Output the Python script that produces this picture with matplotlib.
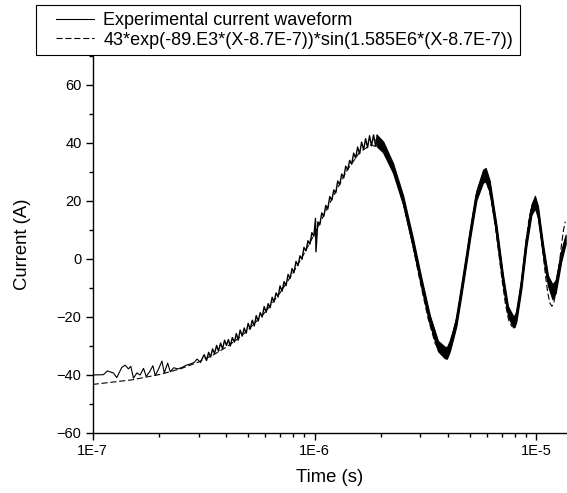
import matplotlib
matplotlib.use("Agg")
import numpy as np
from matplotlib import pyplot as plt
from matplotlib.legend_handler import HandlerLine2D
from matplotlib.ticker import FuncFormatter, LogLocator, MultipleLocator, NullFormatter

plt.rcParams["font.family"] = ["Liberation Sans", "DejaVu Sans"]

# time in microseconds, current in A
early_t_us = [0.100, 0.1117, 0.1165, 0.1240, 0.1284, 0.1352, 0.1400, 0.1449,
              0.1485, 0.1527, 0.1581, 0.1637, 0.1695, 0.1742, 0.1804, 0.1868,
              0.1914, 0.1982, 0.2052, 0.2102, 0.2177, 0.2238, 0.2317, 0.2415,
              0.2527, 0.2643, 0.2756, 0.2873, 0.2954, 0.3059]
early_i = [-40.0, -39.9, -38.6, -39.3, -40.9, -37.4, -36.6, -37.9,
           -37.0, -41.1, -39.3, -40.0, -37.7, -40.5, -38.9, -36.8,
           -40.2, -37.9, -35.2, -39.3, -35.9, -38.9, -37.5, -37.9,
           -37.4, -36.6, -36.2, -35.6, -34.5, -35.6]

mid_t_us = [0.3059, 0.318, 0.326, 0.333, 0.340, 0.347, 0.354, 0.362, 0.369,
            0.377, 0.385, 0.393, 0.401, 0.409, 0.417, 0.426, 0.435, 0.444,
            0.453, 0.462, 0.472, 0.482, 0.492, 0.502, 0.513, 0.524, 0.535,
            0.546, 0.557, 0.569, 0.581, 0.593, 0.605, 0.618, 0.631, 0.644,
            0.657, 0.671, 0.685, 0.699, 0.714, 0.729, 0.744, 0.760, 0.776,
            0.792, 0.808, 0.825, 0.842, 0.860, 0.878, 0.896, 0.915, 0.934,
            0.953, 0.973, 0.993, 1.010, 1.015, 1.035, 1.056, 1.078, 1.101,
            1.124, 1.147, 1.171, 1.196, 1.221, 1.246, 1.272, 1.299, 1.326,
            1.354, 1.382, 1.411, 1.440, 1.470, 1.501, 1.532, 1.564, 1.597,
            1.630, 1.664, 1.699, 1.734, 1.770, 1.807, 1.845, 1.884, 1.920]
mid_i = [-35.6, -33.0, -35.0, -32.2, -33.8, -31.0, -32.6, -29.8, -31.8,
         -29.0, -31.0, -28.0, -29.8, -27.8, -30.0, -27.1, -28.7, -25.7,
         -28.0, -24.5, -26.6, -23.8, -25.6, -22.2, -24.2, -21.1, -23.1,
         -19.5, -21.4, -18.5, -20.0, -16.4, -18.4, -15.4, -16.8, -13.2,
         -14.8, -11.7, -13.1, -9.3, -11.1, -7.8, -9.2, -5.3, -6.7,
         -3.3, -4.7, -0.8, -2.3, 1.1, -0.1, 4.0, 2.8, 6.3,
         5.1, 9.1, 7.8, 14.0, 2.5, 12.8, 11.8, 15.9, 14.7,
         18.5, 17.2, 21.5, 20.3, 23.8, 22.8, 26.9, 25.6, 29.3,
         28.0, 32.0, 30.7, 34.0, 32.7, 36.5, 34.8, 38.6, 36.3,
         40.3, 37.7, 41.5, 38.4, 42.5, 39.0, 42.8, 39.0, 42.0]

# dense part of the record: centre of the noise band and its half-width
late_t_us = [1.90, 2.04, 2.26, 2.51, 2.78, 3.03, 3.31, 3.60, 3.86, 3.95,
             4.07, 4.20, 4.36, 4.59, 4.82, 5.05, 5.37, 5.75, 5.91, 6.16,
             6.60, 7.07, 7.45, 7.85, 7.98, 8.13, 8.56, 9.02, 9.50, 9.85,
             10.17, 10.71, 11.28, 11.81, 12.22, 12.96, 13.55]
late_i = [41.0, 38.6, 31.3, 20.2, 5.5, -8.0, -21.0, -30.0, -32.2, -32.4,
          -30.0, -26.3, -21.5, -11.0, -0.6, 9.6, 22.0, 28.6, 29.0, 25.0,
          10.5, -7.0, -18.0, -21.6, -21.4, -19.7, -8.7, 6.0, 17.0, 19.6,
          16.2, 3.5, -7.5, -11.3, -9.5, 1.1, 6.8]
late_half = [2.0, 1.9, 1.7, 1.6, 1.6, 1.6, 1.6, 1.8, 2.0, 2.0,
             1.9, 1.7, 1.6, 1.6, 1.6, 1.6, 1.7, 2.2, 2.4, 2.0,
             1.6, 1.6, 1.7, 2.0, 2.0, 1.8, 1.6, 1.6, 1.8, 2.2,
             2.0, 1.8, 1.8, 2.6, 2.2, 1.8, 1.6]

fit_t_us = [0.10, 0.15, 0.20, 0.25, 0.30, 0.35, 0.40, 0.45, 0.50, 0.60,
            0.70, 0.80, 0.90, 1.00, 1.20, 1.40, 1.60, 1.80, 2.00, 2.25,
            2.50, 2.75, 3.00, 3.25, 3.50, 3.75, 4.00, 4.25, 4.50, 4.75,
            5.00, 5.25, 5.50, 5.75, 6.00, 6.25, 6.50, 6.75, 7.00, 7.25,
            7.50, 7.75, 8.00, 8.25, 8.50, 8.75, 9.00, 9.25, 9.50, 9.75,
            10.0, 10.25, 10.5, 10.75, 11.0, 11.25, 11.5, 11.75, 12.0, 12.25,
            12.5, 12.75, 13.0, 13.25, 13.5]
fit_i = [-43.25, -41.68, -39.84, -37.80, -35.52, -33.06, -30.40, -27.57, -24.59, -18.28,
         -11.62, -4.79, 2.04, 8.70, 20.86, 30.55, 36.89, 39.40, 37.94, 31.04,
         19.71, 5.86, -8.25, -20.52, -29.19, -32.91, -31.55, -25.46, -15.67, -4.04,
         7.71, 17.84, 24.80, 27.67, 26.16, 20.77, 12.39, 2.63, -7.16, -15.47,
         -21.07, -23.21, -21.74, -17.03, -9.93, -1.63, 6.55, 13.39, 17.89, 19.47,
         18.03, 13.91, 7.84, 0.86, -5.95, -11.56, -15.17, -16.32, -14.93, -11.34,
         -6.17, -0.30, 5.37, 9.97, 12.86]

exp_label = "Experimental current waveform"
fit_label = "43*exp(-89.E3*(X-8.7E-7))*sin(1.585E6*(X-8.7E-7))"


def us_to_s(values):
    return np.asarray(values) * 1e-6


class InsetLineHandler(HandlerLine2D):
    """Legend line that starts a bit right of the handle box, like Origin."""

    def __init__(self, lead, **kwargs):
        super().__init__(**kwargs)
        self.lead = lead

    def create_artists(self, legend, orig_handle, xdescent, ydescent,
                       width, height, fontsize, trans):
        artists = super().create_artists(legend, orig_handle, xdescent,
                                         ydescent, width, height, fontsize,
                                         trans)
        for art in artists:
            xd = np.asarray(art.get_xdata(), dtype=float)
            if xd.size > 1:
                art.set_xdata(np.linspace(xd[0] + self.lead * fontsize,
                                          xd[-1], xd.size))
        return artists


W, H = 567, 493
fig = plt.figure(figsize=(W / 100, H / 100), dpi=100)
ax = fig.add_axes([92.7 / W, 60 / H, 473.3 / W, 377 / H])

(fit_line,) = ax.plot(us_to_s(fit_t_us), fit_i, color="black", linewidth=0.8,
                      dashes=(5.5, 2.5), zorder=2)
(exp_line,) = ax.plot(us_to_s(early_t_us), early_i, color="black",
                      linewidth=0.8, zorder=3)
ax.plot(us_to_s(mid_t_us), mid_i, color="black", linewidth=1.0, zorder=3)

late_t = us_to_s(late_t_us)
late_c = np.asarray(late_i)
late_h = np.asarray(late_half)
ax.fill_between(late_t, late_c - late_h, late_c + late_h, facecolor="black",
                edgecolor="black", linewidth=0.8, zorder=3)
ax.plot(late_t, late_c, color="black", linewidth=1.6, zorder=3)

ax.set_xscale("log")
ax.set_xlim(1e-7, 1.36e-5)
ax.set_ylim(-60, 70)

for side in ("top", "right"):
    ax.spines[side].set_visible(False)
for side in ("left", "bottom"):
    ax.spines[side].set_linewidth(1.0)

ax.xaxis.set_major_locator(LogLocator(base=10))
ax.xaxis.set_minor_locator(LogLocator(base=10, subs=range(2, 10)))
ax.xaxis.set_major_formatter(FuncFormatter(lambda v, p: f"1E{int(round(np.log10(v)))}"))
ax.xaxis.set_minor_formatter(NullFormatter())
ax.yaxis.set_major_locator(MultipleLocator(20))
ax.yaxis.set_minor_locator(MultipleLocator(10))

ax.tick_params(which="major", direction="out", length=5, width=1.0,
               labelsize=10.5, pad=3)
ax.tick_params(which="minor", direction="out", length=3, width=1.0)

ax.set_xlabel("Time (s)", fontsize=13.3)
ax.set_ylabel("Current (A)", fontsize=13.3)
ax.xaxis.set_label_coords(0.5, -0.095)
ax.yaxis.set_label_coords(-0.130, 0.5)

leg = ax.legend(
    [exp_line, fit_line], [exp_label, fit_label],
    loc="upper left", bbox_to_anchor=(36 / W, 1 - 5.4 / H),
    bbox_transform=fig.transFigure, borderaxespad=0,
    fontsize=13.0, frameon=True, fancybox=False, framealpha=1,
    edgecolor="black", borderpad=0.37, labelspacing=0.14,
    handlelength=2.85, handletextpad=0.5,
    handler_map={exp_line: InsetLineHandler(0.76),
                 fit_line: InsetLineHandler(0.76)},
)
leg.get_frame().set_linewidth(0.8)

fig.savefig("out.png", dpi=100)
